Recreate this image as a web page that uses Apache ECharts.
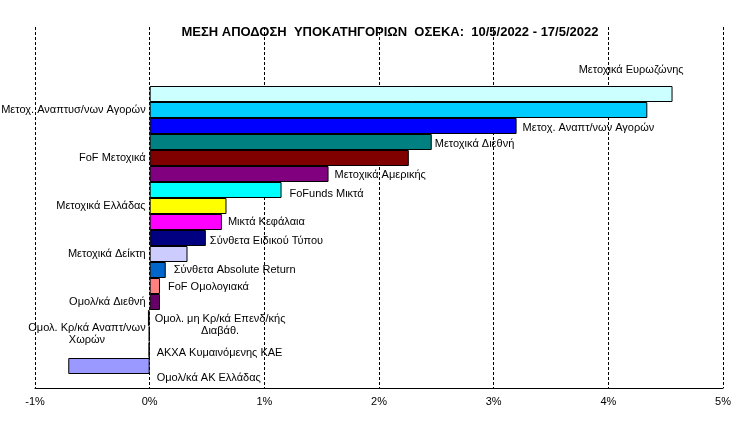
<!DOCTYPE html>
<html>
<head>
<meta charset="utf-8">
<script src="https://cdn.jsdelivr.net/npm/echarts@6/dist/echarts.min.js"></script>
<style>html,body{margin:0;padding:0;background:#fff}#c{width:750px;height:421px}</style>
</head>
<body>
<div id="c"></div>
<script>
const titleText = 'ΜΕΣΗ ΑΠΟΔΟΣΗ  ΥΠΟΚΑΤΗΓΟΡΙΩΝ  ΟΣΕΚΑ:  10/5/2022 - 17/5/2022';
const categories = [
  'Μετοχικά Ευρωζώνης',
  'Μετοχ. Αναπτυσ/νων Αγορών',
  'Μετοχ. Αναπτ/νων Αγορών',
  'Μετοχικά Διεθνή',
  'FoF Μετοχικά',
  'Μετοχικά Αμερικής',
  'FoFunds Μικτά',
  'Μετοχικά Ελλάδας',
  'Μικτά Κεφάλαια',
  'Σύνθετα Ειδικού Τύπου',
  'Μετοχικά Δείκτη',
  'Σύνθετα Absolute Return',
  'FoF Ομολογιακά',
  'Ομολ/κά Διεθνή',
  'Ομολ. μη Κρ/κά Επενδ/κής\nΔιαβάθ.',
  'Ομολ. Κρ/κά Αναπτ/νων\nΧωρών',
  'ΑΚΧΑ Κυμαινόμενης ΚΑΕ',
  'Ομολ/κά ΑΚ Ελλάδας'
];
const values = [4.56, 4.34, 3.20, 2.46, 2.26, 1.56, 1.15, 0.67, 0.63, 0.49, 0.33, 0.14, 0.09, 0.09, -0.015, -0.008, -0.01, -0.71];
const xTicks = [-1, 0, 1, 2, 3, 4, 5];
// categories named on the axis (the rest are named by bar labels)
const axisNamed = ['Μετοχ. Αναπτυσ/νων Αγορών', 'FoF Μετοχικά', 'Μετοχικά Ελλάδας', 'Μετοχικά Δείκτη', 'Ομολ/κά Διεθνή', 'Ομολ. Κρ/κά Αναπτ/νων\nΧωρών'];

const colors = ['#CCFFFF','#00CCFF','#0000FF','#008080','#800000','#800080','#00FFFF','#FFFF00','#FF00FF','#000080','#CCCCFF','#0066CC','#FF8080','#660066','#FFFFFF','#993366','#663300','#9999FF'];
// label placement tweaks
const labelTweak = {
  0: {distance: 11, offset: [0, -24], align: 'right'},
  2: {distance: 6, offset: [0, 2]},
  3: {distance: 3, offset: [0, 2]},
  5: {distance: 6, offset: [0, 1]},
  6: {distance: 8, offset: [0, 4]},
  8: {distance: 6, offset: [0, 0]},
  9: {distance: 4, offset: [0, 3]},
  11: {distance: 8, offset: [0, 0]},
  12: {distance: 8, offset: [0, 1]},
  14: {distance: 5, offset: [0, 7]},
  16: {distance: 7, offset: [0, 3]},
  17: {distance: 7, offset: [0, 12]}
};
const FONT = 'Liberation Sans, Arial, sans-serif';
const X_MIN = xTicks[0], X_MAX = xTicks[xTicks.length - 1];
const GRID_L = 35, GRID_R = 27, W = 750;
// shift the category axis so it sits on the 0% line
const zeroShift = (0 - X_MIN) / (X_MAX - X_MIN) * (W - GRID_L - GRID_R);

function richLines(s) {
  return s.split('\n').map(l => '{c|' + l + '}').join('\n');
}

const data = values.map((v, i) => {
  const named = axisNamed.indexOf(categories[i]) < 0;
  const t = labelTweak[i] || {distance: 5, offset: [0, 0]};
  return {
    value: v,
    itemStyle: {color: colors[i], borderColor: '#000', borderWidth: 1},
    label: named ? {
      show: true, position: 'right', distance: t.distance, offset: t.offset,
      align: t.align || 'left'
    } : {show: false}
  };
});

const chart = echarts.init(document.getElementById('c'), null, {renderer: 'canvas'});
chart.setOption({
  animation: false,
  backgroundColor: '#fff',
  title: {
    text: titleText, left: 385, top: 21, textAlign: 'center',
    textStyle: {fontFamily: FONT, fontSize: 13, fontWeight: 'bold', color: '#000'}
  },
  grid: [
    {left: GRID_L, right: GRID_R, top: 27, bottom: 33, containLabel: false, outerBoundsMode: 'none'},
    {left: GRID_L, right: GRID_R, top: 86, bottom: 47, containLabel: false, outerBoundsMode: 'none'}
  ],
  xAxis: [
    {
      gridIndex: 0, type: 'value', min: X_MIN, max: X_MAX, interval: 1,
      axisLine: {show: true, lineStyle: {color: '#000', width: 1}},
      axisTick: {show: false},
      axisLabel: {formatter: '{value}%', color: '#000', fontFamily: FONT, fontSize: 11, margin: 8},
      splitLine: {show: true, lineStyle: {color: '#000', type: [3, 2], width: 1}}
    },
    {gridIndex: 1, type: 'value', min: X_MIN, max: X_MAX, interval: 1, show: false}
  ],
  yAxis: [
    {gridIndex: 0, type: 'value', show: false},
    {
      gridIndex: 1, type: 'category', inverse: true, data: categories,
      position: 'left', offset: -zeroShift,
      axisLine: {show: false, onZero: false},
      axisTick: {show: false},
      splitLine: {show: false},
      axisLabel: {
        interval: 0,
        margin: 4,
        color: '#000', fontFamily: FONT, fontSize: 11,
        formatter: function (val) { return axisNamed.indexOf(val) >= 0 ? richLines(val) : ''; },
        rich: {c: {align: 'center', color: '#000', fontFamily: FONT, fontSize: 11, lineHeight: 12}}
      }
    }
  ],
  series: [{
    type: 'bar', xAxisIndex: 1, yAxisIndex: 1,
    barWidth: '100%',
    data: data,
    label: {
      formatter: function (p) { return richLines(p.name); },
      color: '#000', fontFamily: FONT, fontSize: 11,
      rich: {c: {align: 'center', color: '#000', fontFamily: FONT, fontSize: 11, lineHeight: 12}}
    }
  }]
});
</script>
</body>
</html>
